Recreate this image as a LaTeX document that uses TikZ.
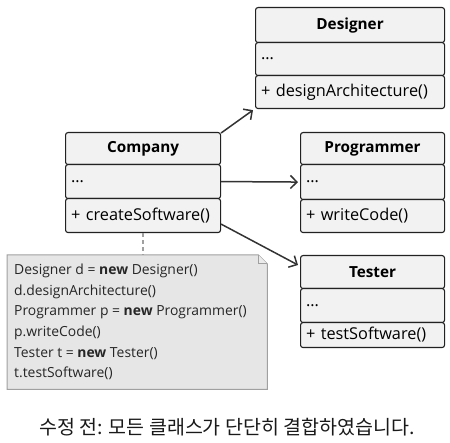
\documentclass[tikz,border=0pt]{standalone}
\usepackage{fontspec}
\setmainfont{Open Sans}
\newfontfamily\krfont{Noto Sans CJK KR}
\usetikzlibrary{arrows.meta}
\definecolor{boxfill}{HTML}{F2F2F2}
\definecolor{boxline}{HTML}{222222}
\definecolor{notefill}{HTML}{E6E6E6}
\definecolor{noteline}{HTML}{A0A0A0}
\definecolor{arrline}{HTML}{333333}
\begin{document}
\begin{tikzpicture}[x=1pt,y=-1pt,
  row/.style={draw=boxline, line width=1.1pt, fill=boxfill, rounded corners=2.5pt,
    anchor=north west, inner sep=0pt, font=\fontsize{16.3}{18}\selectfont},
  hdr/.style={row, font=\fontsize{15.3}{18}\selectfont\bfseries},
  arr/.style={draw=arrline, line width=1.5pt, -{Straight Barb[length=6.5pt,width=13pt]}},
]
\useasboundingbox (0,0) rectangle (450,443);

% Company
\node[hdr, minimum width=155pt, minimum height=32pt] (coh) at (65,132) {Company};
\node[row, minimum width=155pt, minimum height=34pt, text width=144pt, align=left] (coa) at (65,164) {\ldots};
\node[row, minimum width=155pt, minimum height=34pt, text width=144pt, align=left] (com) at (65,198) {+ createSoftware()};

% Designer
\node[hdr, minimum width=189pt, minimum height=35pt] (deh) at (255,7) {Designer};
\node[row, minimum width=189pt, minimum height=33pt, text width=178pt, align=left] (dea) at (255,42) {\ldots};
\node[row, minimum width=189pt, minimum height=33pt, text width=178pt, align=left] (dem) at (255,75) {+ designArchitecture()};

% Programmer
\node[hdr, minimum width=144pt, minimum height=32pt] (prh) at (300,132) {Programmer};
\node[row, minimum width=144pt, minimum height=35pt, text width=133pt, align=left] (pra) at (300,164) {\ldots};
\node[row, minimum width=144pt, minimum height=33pt, text width=133pt, align=left] (prm) at (300,199) {+ writeCode()};

% Tester
\node[hdr, minimum width=144pt, minimum height=33pt] (teh) at (300,255) {Tester};
\node[row, minimum width=144pt, minimum height=34pt, text width=133pt, align=left] (tea) at (300,288) {\ldots};
\node[row, minimum width=144pt, minimum height=25pt, text width=133pt, align=left] (tem) at (300,322) {+ testSoftware()};

% Note
\node[anchor=north west, minimum width=260pt, minimum height=134pt, inner sep=0pt] (note) at (7,255) {};
\draw[draw=noteline, line width=1pt, fill=notefill]
  (note.north west) -- ([xshift=-9pt]note.north east) -- ([yshift=-9pt]note.north east)
  -- (note.south east) -- (note.south west) -- cycle;
\draw[draw=noteline, line width=1pt, fill=notefill!80!white]
  ([xshift=-9pt]note.north east) -- ([xshift=-9pt,yshift=-9pt]note.north east) -- ([yshift=-9pt]note.north east);
\node[anchor=north west, align=left, inner sep=0pt, font=\fontsize{13.9}{20.6}\selectfont, text=black!85] (notetext) at (14,264)
  {Designer d = \textbf{new} Designer()\\
   d.designArchitecture()\\
   Programmer p = \textbf{new} Programmer()\\
   p.writeCode()\\
   Tester t = \textbf{new} Tester()\\
   t.testSoftware()};

% connectors
\draw[draw=noteline, line width=1.2pt, dash pattern=on 4pt off 3pt] (com.south) -- (com.south |- note.north);
\draw[arr] ([yshift=-1pt]coh.north east) -- ([xshift=-2pt,yshift=-1pt]dem.south west);
\draw[arr] (coa.east) -- ([xshift=-2pt]pra.west);
\draw[arr] ([yshift=9pt]com.south east) -- ([xshift=-2pt,yshift=-10pt]teh.north west);

% caption
\node[font=\krfont\fontsize{19.5}{22}\selectfont, text=black!90] (cap) at (227,427) {수정 전: 모든 클래스가 단단히 결합하였습니다.};
\end{tikzpicture}
\end{document}
